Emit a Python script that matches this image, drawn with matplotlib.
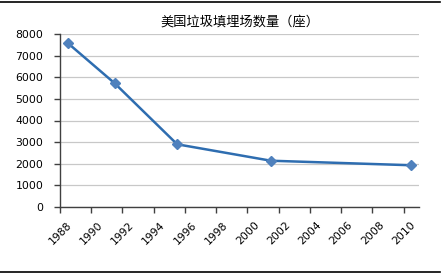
import matplotlib
matplotlib.use("Agg")
import matplotlib.pyplot as plt
from matplotlib.lines import Line2D

plt.rcParams['font.family'] = ['DejaVu Sans']

title = "美国垃圾填埋场数量（座）"
years = [1988, 1991, 1995, 2001, 2010]
counts = [7580, 5720, 2900, 2140, 1930]
xticks = list(range(1988, 2011, 2))
yticks = list(range(0, 8001, 1000))

fig = plt.figure(figsize=(4.46, 2.74), dpi=100)
ax = fig.add_axes([60/446, 1-207/274, (419.3-60)/446, (207-34)/274])

# points are placed at mid-year
xs = [y + 0.5 for y in years]
ax.plot(xs, counts, color='#2E6DB0', lw=1.8, marker='D', ms=5.5,
        markerfacecolor='#4F81BD', markeredgecolor='#4F81BD', zorder=3)

ax.set_xlim(1988, 2011)
ax.set_ylim(0, 8000)
ax.set_xticks(xticks)
ax.set_xticklabels([str(t) for t in xticks], rotation=45, ha='center', va='top', fontsize=7.8)
ax.set_yticks(yticks)
ax.set_yticklabels([str(t) for t in yticks], fontsize=7.8)
ax.grid(axis='y', color='#C8C8C8', lw=0.9)
ax.set_axisbelow(True)
for s in ['top', 'right']:
    ax.spines[s].set_visible(False)
for s in ['left', 'bottom']:
    ax.spines[s].set_color('#404040')
    ax.spines[s].set_linewidth(1.0)
ax.tick_params(axis='both', direction='out', length=4, width=1.0, color='#404040')
ax.tick_params(axis='x', pad=5)
ax.tick_params(axis='y', pad=8)

ax.set_title(title, fontsize=9.5, family=['Noto Sans CJK SC', 'DejaVu Sans'], pad=6)

fig.add_artist(Line2D([0, 440/446], [1-1.5/274, 1-1.5/274], color='black', lw=1.2, transform=fig.transFigure))
fig.add_artist(Line2D([0, 440/446], [1-272/274, 1-272/274], color='black', lw=1.2, transform=fig.transFigure))

fig.savefig("out.png", dpi=100)
